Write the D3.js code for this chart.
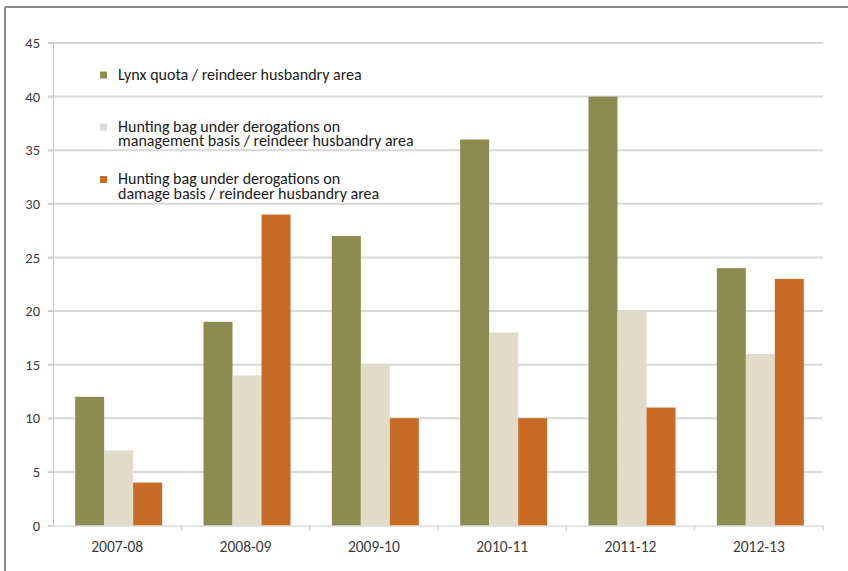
<!DOCTYPE html>
<html>
<head>
<meta charset="utf-8">
<script src="https://cdn.jsdelivr.net/npm/d3@7"></script>
<style>
  html, body { margin: 0; padding: 0; background: #fff; }
  svg { display: block; }
</style>
</head>
<body>
<svg id="chart" width="848" height="571"></svg>
<script>
// Seasons on the x axis
const seasons = ["2007-08", "2008-09", "2009-10", "2010-11", "2011-12", "2012-13"];

// Series names (as shown in the legend)
const seriesNames = [
  ["Lynx quota / reindeer husbandry area"],
  ["Hunting bag under derogations on", "management basis / reindeer husbandry area"],
  ["Hunting bag under derogations on", "damage basis / reindeer husbandry area"]
];

// Values per season for each series
const lynxQuota      = [12, 19, 27, 36, 40, 24];
const bagManagement  = [7, 14, 15, 18, 20, 16];
const bagDamage      = [4, 29, 10, 10, 11, 23];

// Y axis ticks
const yTicks = [0, 5, 10, 15, 20, 25, 30, 35, 40, 45];

const colors = ["#8c8b50", "#e1dcc8", "#c96b25"];
const seriesValues = [lynxQuota, bagManagement, bagDamage];
const font = "Calibri, Carlito, 'Open Sans', 'Liberation Sans', sans-serif";

const svg = d3.select("#chart");

// Outer frame (top and left edges)
svg.append("line").attr("x1", 5).attr("x2", 848).attr("y1", 7).attr("y2", 7)
  .attr("stroke", "#8a8a8a").attr("stroke-width", 2);
svg.append("line").attr("x1", 5).attr("x2", 5).attr("y1", 7).attr("y2", 571)
  .attr("stroke", "#8a8a8a").attr("stroke-width", 2);

const plotLeft = 53, plotRight = 823, plotTop = 43, plotBottom = 525.5;

const x = d3.scaleBand().domain(seasons).range([plotLeft, plotRight]).paddingInner(0).paddingOuter(0);
const y = d3.scaleLinear().domain([0, 45]).range([plotBottom, plotTop]);

// Horizontal gridlines
svg.append("g")
  .selectAll("line")
  .data(yTicks.filter(d => d > 0))
  .join("line")
  .attr("x1", plotLeft - 5).attr("x2", plotRight)
  .attr("y1", d => y(d)).attr("y2", d => y(d))
  .attr("stroke", "#d8d8d8").attr("stroke-width", 2);

// Y axis
const yAxis = svg.append("g")
  .attr("transform", `translate(${plotLeft},0)`)
  .call(d3.axisLeft(y).tickValues(yTicks).tickSize(5).tickPadding(8));
yAxis.select(".domain").attr("stroke", "#c8c8c8").attr("stroke-width", 1);
yAxis.selectAll(".tick line").attr("stroke", "#c8c8c8");
yAxis.selectAll("text")
  .attr("font-family", font)
  .attr("font-size", 14.5).attr("fill", "#3a3a3a");

// Bars
const barW = 29;
const groups = svg.append("g").selectAll("g")
  .data(seasons)
  .join("g")
  .attr("transform", d => `translate(${x(d) + x.bandwidth() / 2},0)`);

groups.selectAll("rect")
  .data((d, i) => seriesValues.map((vals, s) => ({ s, v: vals[i] })))
  .join("rect")
  .attr("x", d => (d.s - 1.5) * barW + 1.5)
  .attr("width", barW)
  .attr("y", d => y(d.v))
  .attr("height", d => y(0) - y(d.v))
  .attr("fill", d => colors[d.s]);

// X axis
const xAxis = svg.append("g")
  .attr("transform", `translate(0,${plotBottom})`)
  .call(d3.axisBottom(x).tickSize(0).tickPadding(15));
xAxis.select(".domain").attr("stroke", "#c8c8c8").attr("stroke-width", 1);
xAxis.selectAll("text")
  .attr("font-family", font)
  .attr("font-size", 15.5).attr("fill", "#3a3a3a");

// Category boundary ticks
svg.append("g").selectAll("line")
  .data(seasons.slice(1).concat(["end"]))
  .join("line")
  .attr("x1", d => d === "end" ? plotRight : x(d))
  .attr("x2", d => d === "end" ? plotRight : x(d))
  .attr("y1", plotBottom).attr("y2", plotBottom + 5)
  .attr("stroke", "#c8c8c8");

// Legend: first-line baselines, swatches sit beside the first line;
// each entry is one text element with one tspan per line
const legendBaselines = [79.5, 131.5, 184];
const legendSwatch = ["#8c8b50", "#dcdcd6", "#c96b25"];
const legend = svg.append("g");
seriesNames.forEach((lines, i) => {
  const base = legendBaselines[i];
  legend.append("rect")
    .attr("x", 100).attr("y", base - 8)
    .attr("width", 7).attr("height", 7)
    .attr("fill", legendSwatch[i]);
  const label = legend.append("text")
    .attr("x", 118)
    .attr("y", base)
    .attr("font-family", font)
    .attr("font-size", 16)
    .attr("fill", "#1a1a1a");
  lines.forEach((t, j) => {
    label.append("tspan")
      .attr("x", 118)
      .attr("y", base + j * 14.5)
      .text(t);
  });
});
</script>
</body>
</html>
